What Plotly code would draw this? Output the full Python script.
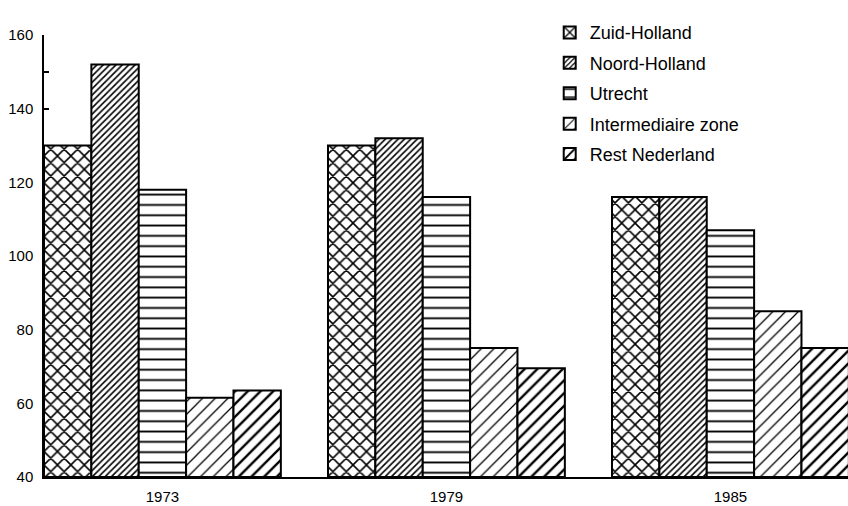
import plotly.graph_objects as go

years = ["1973", "1979", "1985"]
series_names = ["Zuid-Holland", "Noord-Holland", "Utrecht", "Intermediaire zone", "Rest Nederland"]
zuid_holland = [130, 130, 116]
noord_holland = [152, 132, 116]
utrecht = [118, 116, 107]
intermediaire = [61.5, 75, 85]
rest_nederland = [63.5, 69.5, 75]
y_ticks = [40, 60, 80, 100, 120, 140, 160]
baseline = 40

values = [zuid_holland, noord_holland, utrecht, intermediaire, rest_nederland]
patterns = [
    dict(shape="x", size=9.5, solidity=0.3),
    dict(shape="/", size=4.5, solidity=0.35),
    dict(shape="-", size=10.3, solidity=0.18),
    dict(shape="/", size=9, solidity=0.14),
    dict(shape="/", size=9, solidity=0.26),
]

fig = go.Figure()
for name, vals, pat in zip(series_names, values, patterns):
    fig.add_trace(go.Bar(
        x=years, y=[v - baseline for v in vals], base=baseline, name=name,
        marker=dict(
            color="white",
            line=dict(color="black", width=2),
            pattern=dict(shape=pat["shape"], size=pat["size"], solidity=pat["solidity"],
                         fgcolor="black", bgcolor="white", fillmode="replace"),
        ),
        legendgroup=name,
    ))

fig.update_layout(
    width=848, height=506,
    margin=dict(l=44, r=0, t=35, b=29),
    paper_bgcolor="white", plot_bgcolor="white",
    barmode="group", bargap=0.166, bargroupgap=0,
    font=dict(family="Liberation Sans, Arial, sans-serif", color="black"),
    showlegend=True,
    legend=dict(
        x=0.629, y=1.047, xanchor="left", yanchor="top",
        font=dict(size=18, color="black"),
        tracegroupgap=4, bgcolor="rgba(0,0,0,0)",
    ),
    xaxis=dict(
        type="category", range=[-0.417, 2.414], automargin=False,
        showline=True, linecolor="black", linewidth=2,
        ticks="", showgrid=False, zeroline=False,
        tickfont=dict(size=15), ticklabelstandoff=5,
    ),
    yaxis=dict(
        range=[40, 160], tickvals=y_ticks, ticktext=[str(t) for t in y_ticks],
        automargin=False,
        showline=True, linecolor="black", linewidth=1.5,
        ticks="inside", ticklen=5, tickwidth=1.5, tickcolor="black",
        minor=dict(dtick=10, ticks="inside", ticklen=5, tickwidth=1.5, tickcolor="black"),
        showgrid=False, zeroline=False, layer="below traces",
        tickfont=dict(size=15), ticklabelstandoff=6,
    ),
)

fig.write_html(
    "out.html",
    config={"displayModeBar": False},
    post_script="document.body.style.margin='0';document.body.style.overflow='hidden';",
)
